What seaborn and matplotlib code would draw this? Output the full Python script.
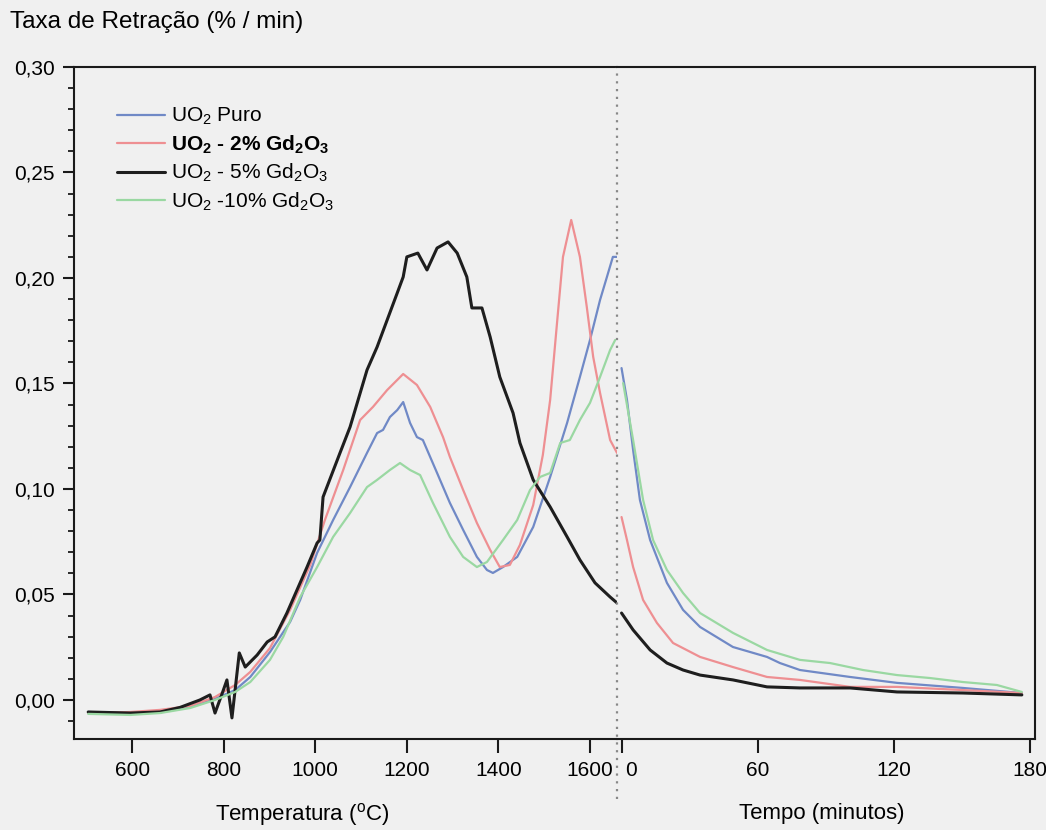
import numpy as np
import pandas as pd
import matplotlib
matplotlib.use("Agg")
import matplotlib.pyplot as plt
import seaborn as sns
from matplotlib.ticker import FixedLocator, MultipleLocator
from matplotlib.transforms import ScaledTranslation

# ---------------- data ----------------
series_names = ["UO$_2$ Puro",
                "UO$_\\mathbf{2}$ - 2% Gd$_\\mathbf{2}$O$_\\mathbf{3}$",
                "UO$_2$ - 5% Gd$_2$O$_3$",
                "UO$_2$ -10% Gd$_2$O$_3$"]

# heating stage: temperature (C) vs shrinkage rate (%/min)
temp_puro = [504, 596, 661, 727, 781, 825, 858, 901, 945, 967, 1004, 1039, 1076, 1113, 1135, 1148, 1163, 1179,
             1192, 1207, 1222, 1235, 1266, 1294, 1323, 1353, 1375, 1388, 1410, 1441, 1476, 1513, 1550, 1578,
             1600, 1622, 1637, 1650, 1659]
rate_puro_T = [-0.0057, -0.0062, -0.0052, -0.0033, 0.0005, 0.0047, 0.0109, 0.0227, 0.0370, 0.0474, 0.0697,
               0.0853, 0.1009, 0.1171, 0.1265, 0.1280, 0.1341, 0.1374, 0.1412, 0.1313, 0.1246, 0.1232, 0.1076,
               0.0934, 0.0806, 0.0678, 0.0616, 0.0602, 0.0630, 0.0678, 0.0820, 0.1057, 0.1313, 0.1531, 0.1706,
               0.1896, 0.2005, 0.2100, 0.2100]

temp_2 = [504, 596, 661, 727, 781, 825, 858, 901, 945, 989, 1021, 1061, 1098, 1126, 1157, 1192, 1222, 1251,
          1279, 1294, 1323, 1353, 1382, 1403, 1425, 1447, 1476, 1497, 1513, 1528, 1541, 1559, 1578, 1593, 1607,
          1622, 1644, 1659]
rate_2_T = [-0.0062, -0.0057, -0.0047, -0.0028, 0.0014, 0.0071, 0.0133, 0.0246, 0.0427, 0.0640, 0.0853, 0.1090,
            0.1327, 0.1389, 0.1469, 0.1545, 0.1493, 0.1389, 0.1246, 0.1152, 0.0995, 0.0839, 0.0711, 0.0630,
            0.0640, 0.0735, 0.0924, 0.1161, 0.1422, 0.1787, 0.2100, 0.2275, 0.2100, 0.1863, 0.1626, 0.1455,
            0.1232, 0.1171]

temp_5 = [504, 596, 661, 705, 748, 770, 781, 797, 807, 818, 834, 847, 873, 895, 912, 938, 960, 982, 1004, 1010,
          1017, 1054, 1076, 1113, 1135, 1157, 1179, 1192, 1200, 1224, 1244, 1266, 1290, 1310, 1331, 1342, 1364,
          1382, 1403, 1432, 1447, 1476, 1513, 1550, 1578, 1611, 1644, 1659]
rate_5_T = [-0.0057, -0.0062, -0.0057, -0.0035, 0.0000, 0.0024, -0.0062, 0.0033, 0.0095, -0.0085, 0.0223,
            0.0156, 0.0213, 0.0275, 0.0299, 0.0412, 0.0521, 0.0630, 0.0744, 0.0758, 0.0962, 0.1171, 0.1294,
            0.1564, 0.1673, 0.1801, 0.1929, 0.2005, 0.2100, 0.2118, 0.2038, 0.2142, 0.2171, 0.2118, 0.2005,
            0.1858, 0.1858, 0.1720, 0.1531, 0.1360, 0.1218, 0.1043, 0.0915, 0.0773, 0.0664, 0.0555, 0.0488,
            0.0460]

temp_10 = [504, 596, 661, 727, 781, 825, 858, 901, 930, 967, 1004, 1039, 1076, 1113, 1135, 1163, 1185, 1207,
           1229, 1257, 1294, 1323, 1353, 1375, 1410, 1441, 1469, 1491, 1513, 1535, 1556, 1578, 1600, 1622,
           1644, 1655]
rate_10_T = [-0.0066, -0.0071, -0.0062, -0.0038, 0.0000, 0.0038, 0.0085, 0.0190, 0.0299, 0.0488, 0.0630,
             0.0773, 0.0886, 0.1009, 0.1043, 0.1090, 0.1123, 0.1090, 0.1066, 0.0934, 0.0773, 0.0678, 0.0630,
             0.0654, 0.0758, 0.0853, 0.0995, 0.1057, 0.1076, 0.1218, 0.1232, 0.1327, 0.1408, 0.1531, 0.1659,
             0.1706]

# isothermal stage: time (min) vs shrinkage rate (%/min)
time_puro = [0, 2.4, 5.1, 8.1, 12.6, 20.0, 27.1, 34.6, 49.1, 64.1, 69.8, 78.6, 100.7, 121.4, 150.4, 176.4]
rate_puro_t = [0.1573, 0.1422, 0.1185, 0.0948, 0.0758, 0.0555, 0.0427, 0.0346, 0.0251, 0.0204, 0.0175, 0.0142,
               0.0109, 0.0081, 0.0057, 0.0033]

time_2 = [0, 2.4, 5.1, 9.5, 15.6, 22.7, 34.6, 49.1, 64.1, 78.6, 100.7, 121.4, 150.4, 176.4]
rate_2_t = [0.0867, 0.0758, 0.0630, 0.0474, 0.0365, 0.0270, 0.0204, 0.0156, 0.0109, 0.0095, 0.0062, 0.0062,
            0.0047, 0.0033]

time_5 = [0, 5.1, 12.6, 20.0, 27.1, 34.6, 49.1, 64.1, 78.6, 100.7, 121.4, 150.4, 176.4]
rate_5_t = [0.0412, 0.0332, 0.0237, 0.0175, 0.0142, 0.0118, 0.0095, 0.0062, 0.0057, 0.0057, 0.0038, 0.0033,
            0.0024]

time_10 = [0.7, 5.1, 9.5, 13.9, 20.0, 27.1, 34.6, 49.1, 64.1, 78.6, 91.9, 106.4, 121.4, 135.9, 150.4, 165.4, 176.4]
rate_10_t = [0.1502, 0.1232, 0.0948, 0.0758, 0.0616, 0.0507, 0.0412, 0.0318, 0.0237, 0.0190, 0.0175, 0.0142,
             0.0118, 0.0104, 0.0085, 0.0071, 0.0038]

temp_ticks = [600, 800, 1000, 1200, 1400, 1600]
time_ticks = [0, 60, 120, 180]
y_ticks = [0.00, 0.05, 0.10, 0.15, 0.20, 0.25, 0.30]
y_tick_labels = ["0,00", "0,05", "0,10", "0,15", "0,20", "0,25", "0,30"]

# ---------------- style ----------------
BG = "#f0f0f0"
colors = ["#7089c6", "#ee8f92", "#1e1e1e", "#9ad8a2"]
widths = [1.6, 1.6, 2.2, 1.6]

sns.set_theme(style="ticks")
plt.rcParams["font.family"] = ["Liberation Sans", "DejaVu Sans"]
plt.rcParams["mathtext.fontset"] = "custom"
plt.rcParams["mathtext.rm"] = "Liberation Sans"
plt.rcParams["mathtext.it"] = "Liberation Sans"
plt.rcParams["mathtext.bf"] = "Liberation Sans:bold"
plt.rcParams["mathtext.default"] = "rm"
plt.rcParams["text.color"] = "black"
plt.rcParams["axes.labelcolor"] = "black"
plt.rcParams["xtick.color"] = "black"
plt.rcParams["ytick.color"] = "black"

W, H = 1046, 830
fig = plt.figure(figsize=(W / 100, H / 100), dpi=100, facecolor=BG)
x0, x1, x2 = 74, 617, 1035
ytop, ybot = 67, 739
axL = fig.add_axes([x0 / W, 1 - ybot / H, (x1 - x0) / W, (ybot - ytop) / H])
axR = fig.add_axes([x1 / W, 1 - ybot / H, (x2 - x1) / W, (ybot - ytop) / H], sharey=axL)
for ax in (axL, axR):
    ax.set_facecolor(BG)

temp_sets = [(temp_puro, rate_puro_T), (temp_2, rate_2_T), (temp_5, rate_5_T), (temp_10, rate_10_T)]
time_sets = [(time_puro, rate_puro_t), (time_2, rate_2_t), (time_5, rate_5_t), (time_10, rate_10_t)]

for i, name in enumerate(series_names):
    dT = pd.DataFrame({"T": temp_sets[i][0], "v": temp_sets[i][1]})
    sns.lineplot(data=dT, x="T", y="v", ax=axL, color=colors[i], linewidth=widths[i],
                 sort=False, estimator=None, label=name)
    dt = pd.DataFrame({"t": time_sets[i][0], "v": time_sets[i][1]})
    sns.lineplot(data=dt, x="t", y="v", ax=axR, color=colors[i], linewidth=widths[i],
                 sort=False, estimator=None, legend=False)

axL.set_xlim(473, 1659)
axR.set_xlim(-2, 182.2)
axL.set_ylim(-0.0185, 0.300)

axL.yaxis.set_major_locator(FixedLocator(y_ticks))
axL.set_yticklabels(y_tick_labels)
axL.yaxis.set_minor_locator(MultipleLocator(0.01))
axL.xaxis.set_major_locator(FixedLocator(temp_ticks))
axL.set_xticklabels([str(v) for v in temp_ticks])
axR.xaxis.set_major_locator(FixedLocator(time_ticks))
axR.set_xticklabels([str(v) for v in time_ticks])

spine_c = "#1a1a1a"
for ax in (axL, axR):
    for s in ax.spines.values():
        s.set_color(spine_c)
        s.set_linewidth(1.5)
axL.spines["right"].set_visible(False)
axR.spines["left"].set_visible(False)
axR.spines["right"].set_visible(True)
axR.spines["top"].set_visible(True)
axL.spines["top"].set_visible(True)

axL.tick_params(axis="y", which="major", direction="out", length=8, width=1.5, labelsize=15, pad=6,
                colors=spine_c, labelcolor="black")
axL.tick_params(axis="y", which="minor", direction="out", length=4.5, width=1.3, colors=spine_c)
axL.tick_params(axis="x", which="major", direction="out", length=10, width=1.5, labelsize=15, pad=6,
                colors=spine_c, labelcolor="black")
axR.tick_params(axis="x", which="major", direction="out", length=10, width=1.5, labelsize=15, pad=6,
                colors=spine_c, labelcolor="black")
axR.tick_params(axis="y", which="both", left=False, right=False, labelleft=False)

# "0" of the time axis sits just right of the separator line
for lab in axR.get_xticklabels():
    if lab.get_text() == "0":
        lab.set_transform(lab.get_transform() + ScaledTranslation(7 / 72, 0, fig.dpi_scale_trans))

axL.set_ylabel("")
axR.set_ylabel("")
axL.set_xlabel("Temperatura ($^{\\mathrm{o}}$C)", fontsize=16)
axR.set_xlabel("Tempo (minutos)", fontsize=16)
axL.xaxis.set_label_coords((302 - x0) / (x1 - x0), (ybot - 814) / (ybot - ytop))
axL.xaxis.label.set_va("center")
axR.xaxis.set_label_coords((822 - x1) / (x2 - x1), (ybot - 814) / (ybot - ytop))
axR.xaxis.label.set_va("center")

fig.text(10 / W, 1 - 22 / H, "Taxa de Retração (% / min)", fontsize=17.5, ha="left", va="center")

# dotted separator between the two stages
axR.plot([0, 0], [-0.09, 1.0], transform=axR.transAxes, clip_on=False,
         color="#888888", linestyle=(0, (1, 2.5)), linewidth=1.6)

leg = axL.legend(loc="upper left", bbox_to_anchor=(117 / W, 1 - 106 / H), bbox_transform=fig.transFigure,
                 frameon=False, fontsize=15, handlelength=2.3, handletextpad=0.3, labelspacing=0.3,
                 borderpad=0, borderaxespad=0)
for t in leg.get_texts():
    t.set_color("black")
leg.get_texts()[1].set_fontweight("bold")

fig.savefig("out.png", dpi=100, facecolor=BG)
